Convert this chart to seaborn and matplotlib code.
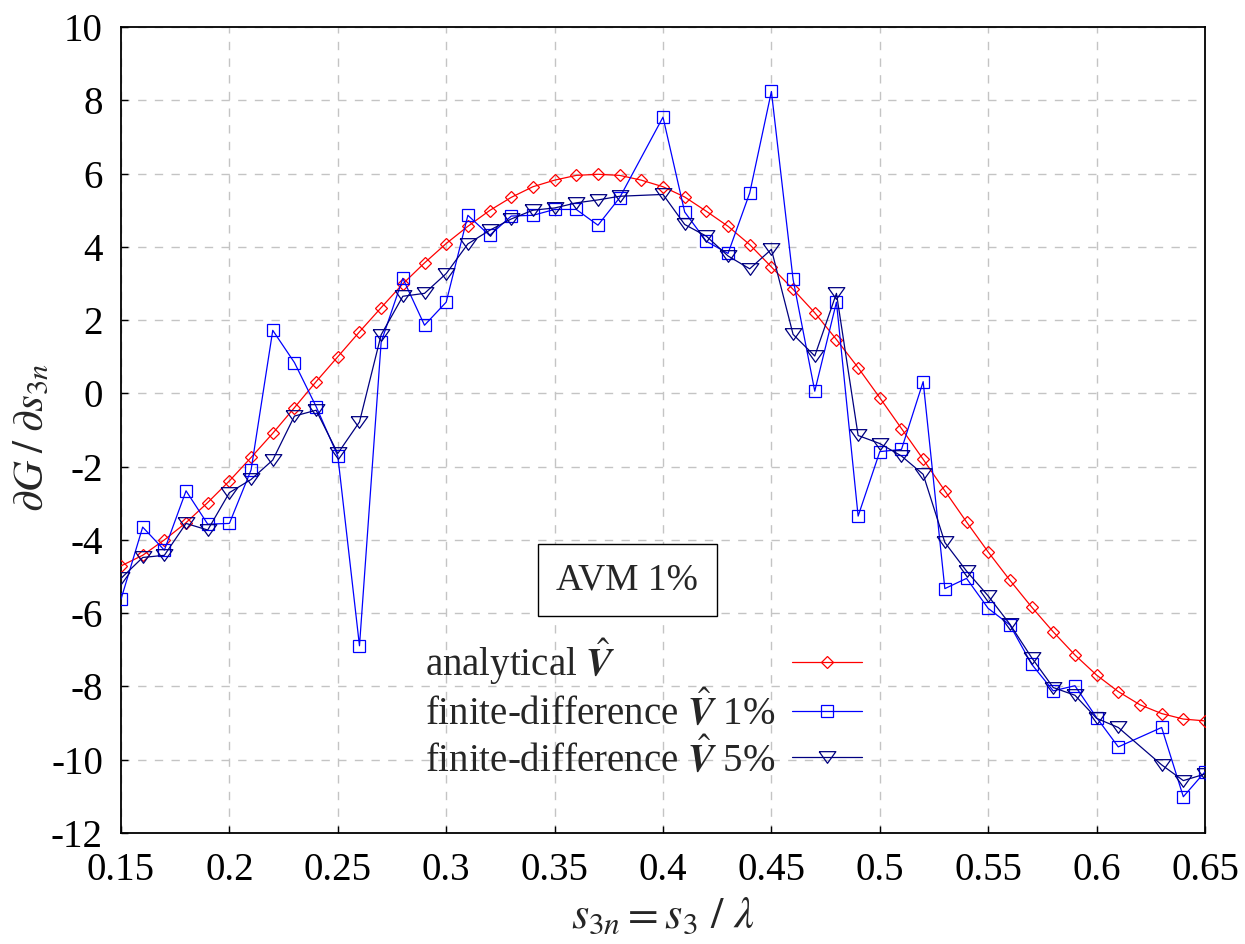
import numpy as np
import pandas as pd
import matplotlib
matplotlib.use("Agg")
import matplotlib.pyplot as plt
import seaborn as sns

# ---------------- data ----------------
x_analytical = [0.15, 0.16, 0.17, 0.18, 0.19, 0.20, 0.21, 0.22, 0.23, 0.24,
                0.25, 0.26, 0.27, 0.28, 0.29, 0.30, 0.31, 0.32, 0.33, 0.34,
                0.35, 0.36, 0.37, 0.38, 0.39, 0.40, 0.41, 0.42, 0.43, 0.44,
                0.45, 0.46, 0.47, 0.48, 0.49, 0.50, 0.51, 0.52, 0.53, 0.54,
                0.55, 0.56, 0.57, 0.58, 0.59, 0.60, 0.61, 0.62, 0.63, 0.64, 0.65]
y_analytical = [-4.71, -4.42, -4.00, -3.53, -2.98, -2.39, -1.75, -1.09, -0.39, 0.32,
                1.00, 1.68, 2.34, 2.99, 3.56, 4.09, 4.56, 4.99, 5.35, 5.64,
                5.82, 5.95, 5.98, 5.95, 5.82, 5.64, 5.36, 4.97, 4.56, 4.06,
                3.45, 2.84, 2.20, 1.47, 0.70, -0.12, -0.96, -1.80, -2.66, -3.51,
                -4.33, -5.10, -5.83, -6.51, -7.14, -7.69, -8.14, -8.50, -8.74, -8.89, -8.94]

x_fd = [0.15, 0.16, 0.17, 0.18, 0.19, 0.20, 0.21, 0.22, 0.23, 0.24,
        0.25, 0.26, 0.27, 0.28, 0.29, 0.30, 0.31, 0.32, 0.33, 0.34,
        0.35, 0.36, 0.37, 0.38, 0.40, 0.41, 0.42, 0.43, 0.44,
        0.45, 0.46, 0.47, 0.48, 0.49, 0.50, 0.51, 0.52, 0.53, 0.54,
        0.55, 0.56, 0.57, 0.58, 0.59, 0.60, 0.61, 0.63, 0.64, 0.65]
y_fd1 = [-5.62, -3.65, -4.28, -2.66, -3.57, -3.55, -2.09, 1.72, 0.84, -0.36,
         -1.71, -6.89, 1.40, 3.14, 1.86, 2.49, 4.86, 4.31, 4.84, 4.86,
         5.02, 5.02, 4.59, 5.34, 7.54, 4.95, 4.15, 3.82, 5.47,
         8.24, 3.11, 0.06, 2.49, -3.35, -1.59, -1.53, 0.32, -5.33, -5.05,
         -5.87, -6.32, -7.39, -8.12, -7.98, -8.85, -9.65, -9.12, -11.01, -10.33]
y_fd5 = [-5.05, -4.48, -4.42, -3.55, -3.73, -2.71, -2.35, -1.82, -0.62, -0.46,
         -1.64, -0.78, 1.60, 2.65, 2.73, 3.27, 4.08, 4.45, 4.76, 5.00,
         5.06, 5.20, 5.28, 5.38, 5.43, 4.61, 4.29, 3.75, 3.40,
         3.93, 1.61, 1.02, 2.73, -1.15, -1.37, -1.71, -2.21, -4.07, -4.85,
         -5.53, -6.30, -7.21, -8.03, -8.24, -8.87, -9.12, -10.14, -10.57, -10.39]

x_ticks = [0.15, 0.2, 0.25, 0.3, 0.35, 0.4, 0.45, 0.5, 0.55, 0.6, 0.65]
x_tick_labels = ["0.15", "0.2", "0.25", "0.3", "0.35", "0.4", "0.45", "0.5", "0.55", "0.6", "0.65"]
y_ticks = [-12, -10, -8, -6, -4, -2, 0, 2, 4, 6, 8, 10]
y_tick_labels = ["-12", "-10", "-8", "-6", "-4", "-2", "0", "2", "4", "6", "8", "10"]

labels = [r"analytical $\hat{\boldsymbol{V}}$",
          r"finite-difference $\hat{\boldsymbol{V}}$ 1%",
          r"finite-difference $\hat{\boldsymbol{V}}$ 5%"]
annotation = "AVM 1%"

# ---------------- style ----------------
sns.set_style("ticks")
plt.rcParams["font.family"] = ["Liberation Serif", "DejaVu Serif"]
plt.rcParams["mathtext.fontset"] = "stix"

fig = plt.figure(figsize=(12.45, 9.44), dpi=100)
ax = fig.add_axes([121 / 1245, 1 - 833 / 944, (1205 - 121) / 1245, (833 - 27) / 944])

df_an = pd.DataFrame({"x": x_analytical, "y": y_analytical})
df1 = pd.DataFrame({"x": x_fd, "y": y_fd1})
df5 = pd.DataFrame({"x": x_fd, "y": y_fd5})

tri = [(-1, 0.7), (1, 0.7), (0, -0.7), (-1, 0.7)]

sns.lineplot(data=df_an, x="x", y="y", ax=ax, color="#ff0000", linewidth=0.9,
             marker="D", markersize=6.5, markerfacecolor="none",
             markeredgecolor="#ff0000", markeredgewidth=0.9, label=labels[0], zorder=3)
sns.lineplot(data=df1, x="x", y="y", ax=ax, color="#0000ff", linewidth=0.9,
             marker="s", markersize=9.3, markerfacecolor="none",
             markeredgecolor="#0000ff", markeredgewidth=0.9, label=labels[1], zorder=4)
sns.lineplot(data=df5, x="x", y="y", ax=ax, color="#000080", linewidth=0.9,
             marker=tri, markersize=12, markerfacecolor="none",
             markeredgecolor="#000080", markeredgewidth=0.9, label=labels[2], zorder=5)

ax.set_xlim(0.15, 0.65)
ax.set_ylim(-12, 10)
ax.set_xticks(x_ticks)
ax.set_xticklabels(x_tick_labels)
ax.set_yticks(y_ticks)
ax.set_yticklabels(y_tick_labels)
ax.tick_params(axis="both", direction="in", length=5, width=1, labelsize=28, colors="black")
ax.tick_params(axis="x", pad=14)
ax.tick_params(axis="y", pad=13)

ax.grid(True, color="#c4c4c4", linestyle=(0, (6, 6)), linewidth=1.0)
ax.set_axisbelow(True)
for s in ax.spines.values():
    s.set_visible(True)
    s.set_linewidth(1.3)
    s.set_color("black")

ax.set_xlabel(r"$s_{3n} = s_3\ /\ \lambda$", fontsize=32, labelpad=5)
ax.set_ylabel(r"$\partial G\;/\;\partial s_{3n}$", fontsize=31)
ax.yaxis.set_label_coords(-0.063, 0.49)

ax.text(0.3835, -5.1, annotation, fontsize=27, ha="center", va="center", zorder=6,
        bbox=dict(boxstyle="square,pad=0.5", facecolor="white", edgecolor="black", linewidth=1.0))

leg = ax.legend(loc="center left", bbox_to_anchor=((425 - 121) / 1084, (833 - 708) / 806),
                frameon=False, fontsize=28, markerfirst=False, handlelength=1.8,
                handletextpad=0.5, labelspacing=0.13, borderpad=0, borderaxespad=0)

# left-align legend labels while keeping the handles in one column
fig.canvas.draw()
renderer = fig.canvas.get_renderer()
widths = [t.get_window_extent(renderer).width for t in leg.get_texts()]
maxw = max(widths)
px2pt = 72.0 / fig.dpi
column = leg._legend_handle_box.get_children()[0]
column.align = "left"
for row, w in zip(column.get_children(), widths):
    row.sep = (17 + (maxw - w)) * px2pt

fig.savefig("out.png", dpi=100)
